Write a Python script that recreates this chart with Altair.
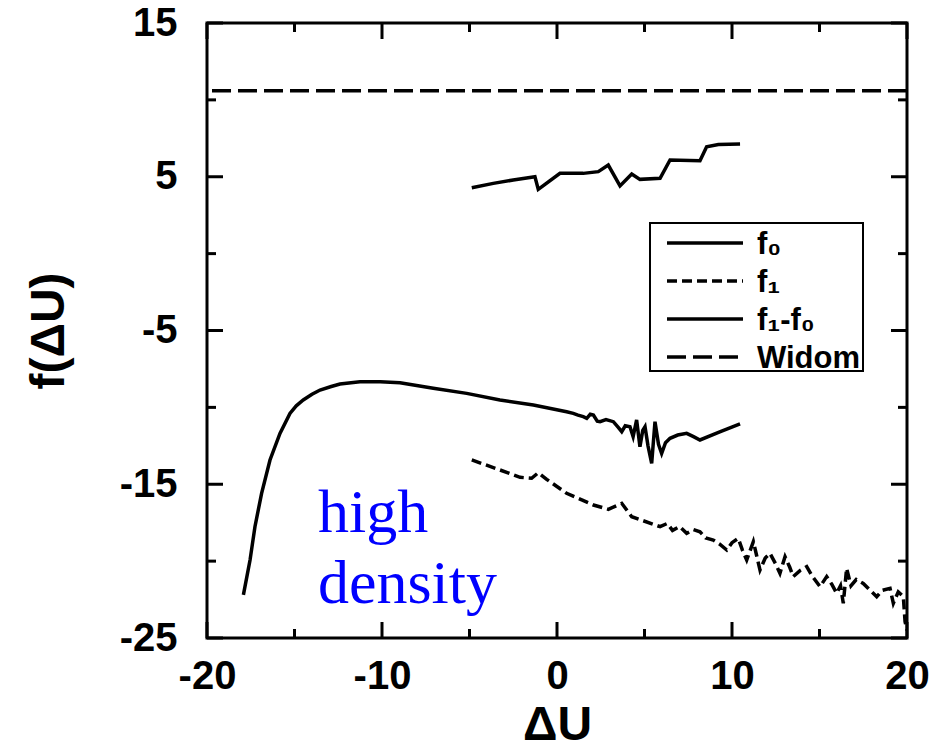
import altair as alt
import pandas as pd

# ---------------- data ----------------
f0_x = [-17.92, -17.54, -17.26, -16.88, -16.4, -15.83, -15.26, -14.9, -14.5, -14.0, -13.54, -12.9,
        -12.4, -11.26, -10.1, -8.97, -7.07, -5.16, -3.26, -1.35, 0.55, 0.93, 1.2, 1.5, 1.7, 1.9,
        2.08, 2.3, 2.46, 2.8, 3.22, 3.5, 3.7, 3.9, 4.17, 4.35, 4.55, 4.74, 4.9, 5.03, 5.2, 5.41,
        5.6, 5.8, 5.98, 6.2, 6.46, 6.9, 7.41, 7.8, 8.17, 9.3, 10.46]
f0_y = [-22.2, -19.93, -17.76, -15.59, -13.42, -11.69, -10.39, -9.9, -9.52, -9.15, -8.87, -8.64,
        -8.48, -8.33, -8.33, -8.40, -8.76, -9.09, -9.52, -9.85, -10.28, -10.39, -10.5, -10.6, -10.71, -10.45,
        -10.50, -10.9, -10.93, -10.8, -10.93, -11.3, -11.58, -11.2, -11.26, -11.9, -10.82, -12.56, -11.5, -11.26, -12.5, -13.64,
        -10.93, -12.4, -13.0, -12.3, -12.01, -11.8, -11.69, -11.9, -12.12, -11.6, -11.08]

f1_x = [-4.87, -3.26, -2.11, -1.45, -1.07, -0.59, 0.55, 2.08, 2.93, 3.7, 4.27, 5.89,
        6.3, 6.6, 7.0, 7.41, 7.8, 8.17, 8.5, 8.93, 9.3, 9.7, 10.0, 10.36, 10.6, 10.84,
        11.22, 11.4, 11.6, 11.9, 12.17, 12.5, 12.74, 13.03, 13.3, 13.5, 13.9, 14.27, 14.6,
        15.03, 15.41, 15.7, 15.98, 16.2, 16.36, 16.55, 16.8, 17.1, 17.5, 17.9, 18.27, 18.6,
        19.03, 19.22, 19.5, 19.79, 19.89, 20.0]
f1_y = [-13.42, -14.07, -14.55, -14.61, -14.25, -14.68, -15.59, -16.35, -16.63, -16.24, -17.11, -17.76,
        -17.55, -18.0, -17.75, -18.19, -17.95, -18.09, -18.5, -18.63, -18.9, -19.28, -18.8, -18.52, -19.3, -19.93,
        -18.73, -19.6, -20.58, -19.8, -19.49, -20.2, -20.79, -19.71, -20.4, -21.01, -20.6, -20.36, -21.0,
        -21.66, -21.01, -21.5, -22.09, -21.6, -22.74, -20.47, -21.6, -21.2, -21.45, -21.9, -22.31, -21.9,
        -21.77, -22.74, -22.0, -22.31, -23.94, -24.5]

d_x = [-4.87, -3.64, -2.5, -1.26, -1.07, 0.17, 1.5, 2.36, 2.93, 3.6, 4.27, 4.74,
       5.89, 6.46, 8.17, 8.55, 9.22, 10.46]
d_y = [4.29, 4.57, 4.79, 5.0, 4.18, 5.22, 5.22, 5.33, 5.76, 4.4, 5.18, 4.83,
       4.9, 6.09, 6.04, 6.95, 7.1, 7.13]

widom_y = [10.6]

x_major = [-20, -10, 0, 10, 20]
x_minor = [-15, -5, 5, 15]
y_major = [-25, -15, -5, 5, 15]
y_minor = [-20, -10, 0, 10]

legend_labels = ["f\u2080", "f\u2081", "f\u2081-f\u2080", "Widom"]
annotation = ["high", "density"]
annot_x = [-13.66]
annot_y = [-18.1]

# ---------------- layout ----------------
W, H = 700, 615
MAJ, MIN = 16, 9
FONT = "Liberation Sans"
LW = 3.5

xs = alt.Scale(domain=[-20, 20], nice=False, zero=False)
ys = alt.Scale(domain=[-25, 15], nice=False, zero=False)

xaxis = alt.Axis(values=x_major, ticks=False, domain=False, grid=False,
                 labelExpr="'' + datum.value",
                 labelFontSize=40, labelFont=FONT, labelFontWeight="bold", labelColor="black",
                 labelPadding=18, labelOverlap=False, labelFlush=False,
                 titleFontSize=48, titleFont=FONT, titleFontWeight="bold", titleColor="black",
                 titlePadding=5)
yaxis = alt.Axis(values=y_major, ticks=False, domain=False, grid=False,
                 labelExpr="'' + datum.value",
                 labelFontSize=40, labelFont=FONT, labelFontWeight="bold", labelColor="black",
                 labelPadding=30, labelOverlap=False, labelFlush=False,
                 titleFontSize=48, titleFont=FONT, titleFontWeight="bold", titleColor="black",
                 titlePadding=46)


def X():
    return alt.X("x:Q", scale=xs, axis=xaxis, title="\u0394U")


def Y():
    return alt.Y("y:Q", scale=ys, axis=yaxis, title="f(\u0394U)")


def line(xv, yv, dash=None):
    df = pd.DataFrame({"x": xv, "y": yv, "o": list(range(len(xv)))})
    kw = dict(color="black", strokeWidth=LW, strokeJoin="miter", clip=True)
    if dash:
        kw["strokeDash"] = dash
    return alt.Chart(df).mark_line(**kw).encode(x=X(), y=Y(), order="o:Q")


layers = []

# Widom
layers.append(alt.Chart(pd.DataFrame({"y": widom_y})).mark_rule(
    color="black", strokeWidth=LW, strokeDash=[19, 7]).encode(y=Y()))

layers.append(line(d_x, d_y))
layers.append(line(f0_x, f0_y))
layers.append(line(f1_x, f1_y, [10, 5]))

# ticks (inward, all four sides)
for vals, ln in ((x_major, MAJ), (x_minor, MIN)):
    d = pd.DataFrame({"x": vals})
    layers.append(alt.Chart(d).mark_rule(color="black", strokeWidth=3).encode(
        x=X(), y=alt.value(H), y2=alt.value(H - ln)))
    layers.append(alt.Chart(d).mark_rule(color="black", strokeWidth=3).encode(
        x=X(), y=alt.value(0), y2=alt.value(ln)))
for vals, ln in ((y_major, MAJ), (y_minor, MIN)):
    d = pd.DataFrame({"y": vals})
    layers.append(alt.Chart(d).mark_rule(color="black", strokeWidth=3).encode(
        y=Y(), x=alt.value(0), x2=alt.value(ln)))
    layers.append(alt.Chart(d).mark_rule(color="black", strokeWidth=3).encode(
        y=Y(), x=alt.value(W), x2=alt.value(W - ln)))

# annotation
layers.append(alt.Chart(pd.DataFrame({"x": annot_x, "y": annot_y})).mark_text(
    text=annotation, font="Liberation Serif", fontSize=62, color="#0000ff",
    align="left", baseline="alphabetic", lineHeight=71).encode(x=X(), y=Y()))

# legend (manual)
one = pd.DataFrame({"a": [0]})
layers.append(alt.Chart(one).mark_rect(fill="white", stroke="black", strokeWidth=2).encode(
    x=alt.value(443), x2=alt.value(656), y=alt.value(200), y2=alt.value(348)))
dashes = [None, [10, 5], None, [19, 7]]
for i, (lab, dsh) in enumerate(zip(legend_labels, dashes)):
    ry = 220 + i * 38
    kw = dict(color="black", strokeWidth=LW)
    if dsh:
        kw["strokeDash"] = dsh
    layers.append(alt.Chart(one).mark_rule(**kw).encode(
        x=alt.value(460), x2=alt.value(536), y=alt.value(ry)))
    layers.append(alt.Chart(one).mark_text(
        text=lab, font=FONT, fontWeight="bold", fontSize=31, color="black",
        align="left", baseline="middle").encode(x=alt.value(550), y=alt.value(ry + 2)))

chart = alt.layer(*layers).properties(
    width=W, height=H,
    autosize=alt.AutoSizeParams(type="none"),
    padding={"left": 207, "top": 23, "right": 42, "bottom": 116},
    background="white",
).configure_view(stroke="black", strokeWidth=3)

chart.save("out.html", embed_options={"renderer": "svg", "actions": False})
